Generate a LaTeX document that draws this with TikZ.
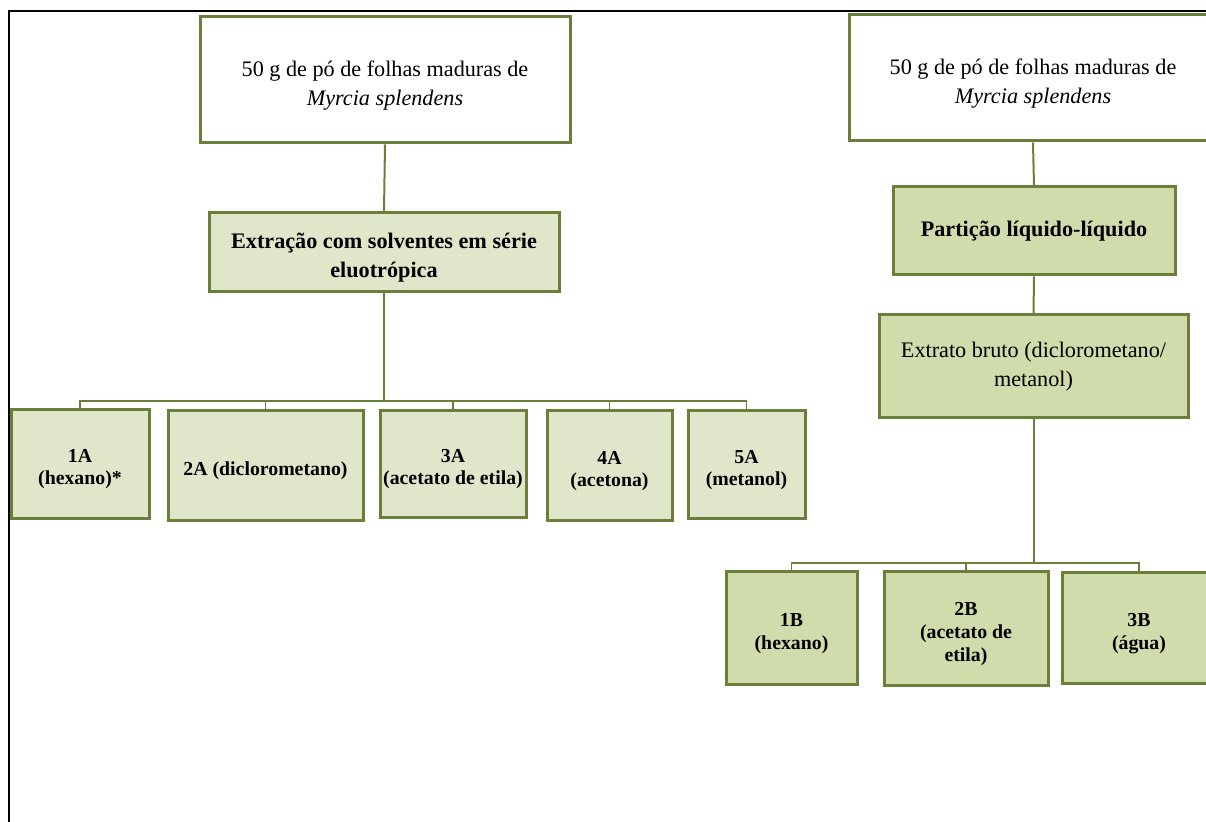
\documentclass[tikz,border=0pt]{standalone}
\usepackage{fontspec}
\setmainfont{Liberation Serif}
\definecolor{olive}{HTML}{6A7F3A}
\definecolor{lightA}{HTML}{DFE6C9}
\definecolor{lightB}{HTML}{D0DCAB}
\newcommand\lowtab[2]{\begin{tabular}{@{}c@{}}\rule{0pt}{#1}\ignorespaces#2\end{tabular}}
\begin{document}
\begin{tikzpicture}[x=0.5pt,y=-0.5pt,
  box/.style={draw=olive, line width=1.5pt, inner sep=0pt, align=center,
    font=\fontsize{11.1}{14.5}\selectfont},
  whitebox/.style={box, fill=white},
  greenA/.style={box, fill=lightA, font=\fontsize{11.1}{14.5}\selectfont\bfseries},
  greenB/.style={box, fill=lightB, font=\fontsize{11.1}{14.5}\selectfont\bfseries},
  childA/.style={draw=olive, line width=1.5pt, inner sep=0pt, fill=lightA, font=\fontsize{9.9}{11}\selectfont\bfseries},
  childB/.style={draw=olive, line width=1.5pt, inner sep=0pt, fill=lightB, font=\fontsize{9.9}{11.3}\selectfont\bfseries},
  conn/.style={draw=olive, line width=1pt},
  thin/.style={draw=olive, line width=0.8pt}]
\useasboundingbox (0,0) rectangle (1206,822);
\clip (0,0) rectangle (1206,822);
\fill[white] (0,0) rectangle (1206,822);
% frame
\draw[black, line width=1pt] (8.5,822) -- (8.5,11) -- (1210,11);

% left column
\node[draw=olive, line width=1.5pt, inner sep=0pt, fill=white, font=\fontsize{11.1}{14.5}\selectfont,
  minimum width=185pt, minimum height=63pt] (T1) at (385,80)
  {\lowtab{15.2pt}{50 g de pó de folhas maduras de\\ \itshape Myrcia splendens}};
\node[draw=olive, line width=1.5pt, inner sep=0pt, fill=lightA, font=\fontsize{11.1}{14.5}\selectfont\bfseries,
  minimum width=175pt, minimum height=39.5pt] (E1) at (384,252.5)
  {\lowtab{15.2pt}{Extração com solventes em série\\eluotrópica}};
\node[childA, minimum width=69pt, minimum height=54.5pt] (A1) at (80,464.5) {\lowtab{12.7pt}{1A\\(hexano)*}};
\node[childA, minimum width=97.5pt, minimum height=55pt] (A2) at (265.5,466) {\lowtab{12.7pt}{2A (diclorometano)}};
\node[childA, minimum width=73pt, minimum height=53.5pt] (A3) at (453,464.5) {\lowtab{12.7pt}{3A\\(acetato de etila)}};
\node[childA, minimum width=62.5pt, minimum height=55pt] (A4) at (609.5,466) {\lowtab{12.7pt}{4A\\(acetona)}};
\node[childA, minimum width=58.5pt, minimum height=54pt] (A5) at (746.5,465) {\lowtab{12.7pt}{5A\\(metanol)}};

\draw[conn] (T1.south) -- (E1.north);
\coordinate (busA) at (384,401);
\draw[conn] (E1.south) -- (busA);
\draw[thin] (busA) -| (A1.north);
\draw[thin] (busA) -| (A2.north);
\draw[thin] (busA) -| (A3.north);
\draw[thin] (busA) -| (A4.north);
\draw[thin] (busA) -| (A5.north);

% right column
\node[draw=olive, line width=1.5pt, inner sep=0pt, fill=white, font=\fontsize{11.1}{14.5}\selectfont,
  minimum width=184pt, minimum height=63pt] (T2) at (1033,78)
  {\lowtab{15.2pt}{50 g de pó de folhas maduras de\\ \itshape Myrcia splendens}};
\node[greenB, minimum width=141pt, minimum height=44pt] (P) at (1034,231)
  {Partição líquido-líquido};
\node[box, fill=lightB, minimum width=154.5pt, minimum height=51.5pt] (X) at (1033.5,366.5)
  {Extrato bruto (diclorometano/\\metanol)};
\node[childB, minimum width=65.5pt, minimum height=56.5pt] (B1) at (791.5,628.5) {\lowtab{12.9pt}{1B\\(hexano)}};
\node[childB, minimum width=82pt, minimum height=57pt] (B2) at (966,629) {\lowtab{12.9pt}{2B\\(acetato de\\etila)}};
\node[childB, minimum width=77pt, minimum height=55.5pt] (B3) at (1139,628.5) {\lowtab{12.9pt}{3B\\(água)}};

\draw[conn] (T2.south) -- (P.north);
\draw[conn] (P.south) -- (X.north);
\coordinate (busB) at (1033.5,563);
\draw[conn] (X.south) -- (busB);
\draw[thin] (busB) -| (B1.north);
\draw[thin] (busB) -| (B2.north);
\draw[thin] (busB) -| (B3.north);
\end{tikzpicture}
\end{document}
